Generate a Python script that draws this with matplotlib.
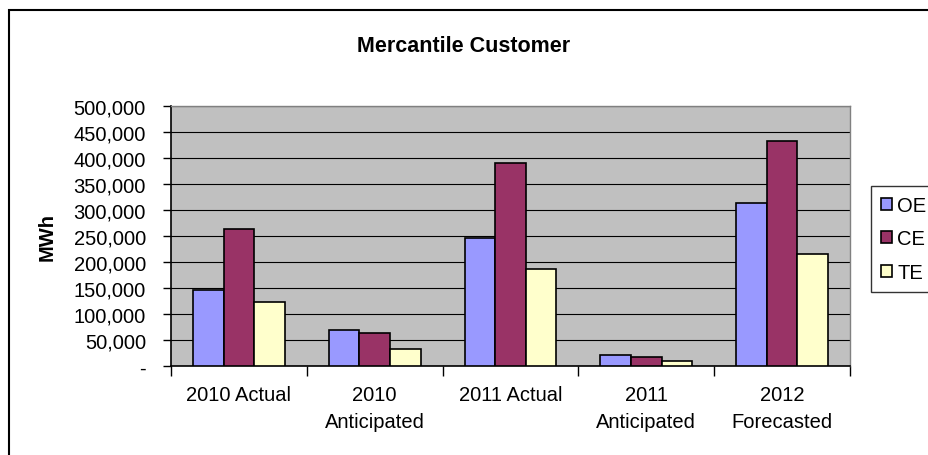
import matplotlib

matplotlib.use("Agg")

import matplotlib.pyplot as plt
import numpy as np
from matplotlib.patches import Rectangle
from matplotlib.ticker import FuncFormatter, MultipleLocator

plt.rcParams["font.family"] = ["Liberation Sans", "DejaVu Sans"]

CATEGORIES = ["2010 Actual", "2010\nAnticipated", "2011 Actual", "2011\nAnticipated", "2012\nForecasted"]
SERIES = ["OE", "CE", "TE"]
OE = [147000, 70000, 246000, 20500, 313000]
CE = [264000, 64000, 390000, 18000, 433000]
TE = [123000, 33000, 187000, 9000, 215000]
COLORS = ["#9999FF", "#993366", "#FFFFCC"]

W, H = 929, 456
FS = 14.5

fig = plt.figure(figsize=(W / 100, H / 100), dpi=100)

# outer chart frame (runs past the right and bottom edges)
fig.patches.append(Rectangle((8.5 / W, -0.05), 1.0, 1 - 10.7 / H + 0.05,
                             transform=fig.transFigure, fill=False,
                             edgecolor="#000000", linewidth=1.5))

ax = fig.add_axes([171 / W, (H - 367) / H, 679 / W, 260 / H])
ax.set_facecolor("#C0C0C0")

x = np.arange(len(CATEGORIES))
width = 0.225
for i, (name, vals) in enumerate(zip(SERIES, [OE, CE, TE])):
    ax.bar(x + (i - 1) * width, vals, width, color=COLORS[i], edgecolor="black",
           linewidth=1.2, label=name, zorder=3)

ax.set_xlim(-0.5, len(CATEGORIES) - 0.5)
ax.set_ylim(0, 500000)
ax.yaxis.set_major_locator(MultipleLocator(50000))
ax.yaxis.set_major_formatter(FuncFormatter(lambda v, p: "-" if v == 0 else f"{int(v):,}"))
ax.grid(axis="y", color="black", linewidth=0.8, zorder=1)
ax.set_axisbelow(True)

# boundary ticks as major, category names as minor
ax.set_xticks(np.arange(len(CATEGORIES) + 1) - 0.5)
ax.set_xticklabels([])
ax.set_xticks(x, minor=True)
ax.set_xticklabels(CATEGORIES, minor=True, fontsize=FS, linespacing=1.5)
ax.tick_params(axis="x", which="major", direction="out", length=7, width=1)
ax.tick_params(axis="x", which="minor", length=0, pad=14)
ax.tick_params(axis="y", direction="out", length=6, width=1, pad=12, labelsize=FS)

for side in ["top", "right"]:
    ax.spines[side].set_color("#808080")
    ax.spines[side].set_linewidth(1)
for side in ["left", "bottom"]:
    ax.spines[side].set_color("black")
    ax.spines[side].set_linewidth(1.2)

ax.set_ylabel("MWh", fontsize=FS, fontweight="bold", labelpad=12)
fig.text(464 / W, 1 - 46 / H, "Mercantile Customer", ha="center", va="center",
         fontsize=15.5, fontweight="bold")

leg = fig.legend(loc="upper left", bbox_to_anchor=(871 / W, 1 - 186.7 / H),
                 fontsize=FS, frameon=True, fancybox=False, edgecolor="black",
                 handlelength=0.55, handleheight=0.55, handletextpad=0.25,
                 labelspacing=0.72, borderpad=0.5, borderaxespad=0)
leg.get_frame().set_linewidth(1)

fig.savefig("out.png", dpi=100)
